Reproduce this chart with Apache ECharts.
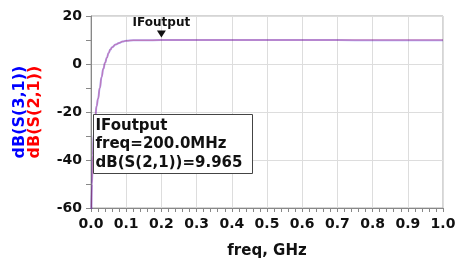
<!DOCTYPE html>
<html>
<head>
<meta charset="utf-8">
<script src="https://cdn.jsdelivr.net/npm/echarts@6/dist/echarts.min.js"></script>
<style>html,body{margin:0;padding:0;background:#fff;}#c{width:462px;height:264px;}</style>
</head>
<body>
<div id="c"></div>
<script>
var freqGHz = [0.001,0.003,0.005,0.008,0.012,0.016,0.02,0.025,0.03,0.035,0.04,0.045,0.05,0.055,0.06,0.07,0.08,0.09,0.1,0.12,0.15,0.2,0.3,0.4,0.5,0.6,0.7,0.8,0.9,1.0];
var dB_S21 = [-62,-50,-38,-29,-22,-17.5,-14.5,-10,-5.5,-2,0.5,2.6,4.6,6.0,7.0,8.1,8.8,9.35,9.7,9.85,9.93,9.965,9.97,9.97,9.97,9.97,9.98,9.99,9.99,9.99];
var dB_S31 = [-62,-50,-38,-29,-22,-17.5,-14.5,-10,-5.5,-2,0.5,2.6,4.6,6.0,7.0,8.1,8.8,9.35,9.7,9.85,9.93,9.965,9.97,9.97,9.97,9.96,9.95,9.94,9.94,9.94];
var xTicks = ['0.0','0.1','0.2','0.3','0.4','0.5','0.6','0.7','0.8','0.9','1.0'];
var yTicks = [-60,-40,-20,0,20];
var markerFreq = 0.2, markerVal = 9.965;

function pairs(xs, ys){ return xs.map(function(x,i){ return [x, ys[i]]; }); }

var FONT = 'DejaVu Sans';
var chart = echarts.init(document.getElementById('c'), null, {renderer:'canvas'});
chart.setOption({
  animation:false,
  backgroundColor:'#fff',
  grid:{left:91, right:19, top:16, bottom:55, show:true, borderColor:'#aaaaaa', borderWidth:1},
  xAxis:{
    type:'value', min:0, max:1, interval:0.1,
    name:'freq, GHz', nameLocation:'middle', nameGap:36,
    nameTextStyle:{fontFamily:FONT, fontWeight:'bold', fontSize:15, color:'#111'},
    axisLine:{show:true, onZero:false, lineStyle:{color:'#888', width:1}},
    axisTick:{show:true, length:4, lineStyle:{color:'#888'}},
    minorTick:{show:true, splitNumber:5, length:4, lineStyle:{color:'#888'}},
    splitLine:{show:true, lineStyle:{color:'#dddddd', width:1}},
    axisLabel:{margin:9, fontFamily:FONT, fontWeight:'bold', fontSize:14, color:'#111',
      formatter:function(v){ var i = Math.round(v*10); return xTicks[i] !== undefined ? xTicks[i] : ''; }}
  },
  yAxis:{
    type:'value', min:-60, max:20, interval:20,
    name:'{b|dB(S(3,1))}\n{r|dB(S(2,1))}', nameLocation:'middle', nameGap:49, nameRotate:90,
    nameTextStyle:{rich:{
      b:{fontFamily:FONT, fontWeight:'bold', fontSize:16, color:'#0000ff', lineHeight:15},
      r:{fontFamily:FONT, fontWeight:'bold', fontSize:16, color:'#ff0000', lineHeight:15}
    }},
    axisLine:{show:true, onZero:false, lineStyle:{color:'#888', width:1}},
    axisTick:{show:true, length:5, lineStyle:{color:'#888'}},
    minorTick:{show:true, splitNumber:2, length:5, lineStyle:{color:'#888'}},
    splitLine:{show:true, lineStyle:{color:'#dddddd', width:1}},
    axisLabel:{margin:9, fontFamily:FONT, fontWeight:'bold', fontSize:14, color:'#111',
      formatter:function(v){ return yTicks.indexOf(v) >= 0 ? String(v) : ''; }}
  },
  series:[
    {name:'dB(S(3,1))', type:'line', data:pairs(freqGHz, dB_S31), showSymbol:false, smooth:0.5, smoothMonotone:'x',
     lineStyle:{color:'#0000ff', width:2, opacity:0.35}, itemStyle:{color:'#0000ff'}, z:2},
    {name:'dB(S(2,1))', type:'line', data:pairs(freqGHz, dB_S21), showSymbol:false, smooth:0.5, smoothMonotone:'x',
     lineStyle:{color:'#ff0000', width:1.5, opacity:0.25}, itemStyle:{color:'#ff0000'}, z:3,
     markPoint:{
       symbol:'triangle', symbolRotate:180, symbolSize:[9,7], symbolOffset:[0,-6],
       itemStyle:{color:'#111'},
       label:{show:true, position:'top', distance:2, formatter:'IFoutput',
         fontFamily:FONT, fontWeight:'bold', fontSize:12, color:'#111'},
       data:[{coord:[markerFreq, markerVal]}]
     }}
  ],
  graphic:[
    {type:'group', left:93, top:114, z:100, children:[
      {type:'rect', z:100, shape:{x:0, y:0, width:159, height:59}, style:{fill:'#ffffff', stroke:'#444', lineWidth:1}},
      {type:'text', z:101, x:2, y:2, style:{text:'IFoutput\nfreq=200.0MHz\ndB(S(2,1))=' + markerVal.toFixed(3),
        font:'bold 15px "DejaVu Sans"', fill:'#111', lineHeight:18.5}}
    ]}
  ]
});
</script>
</body>
</html>
